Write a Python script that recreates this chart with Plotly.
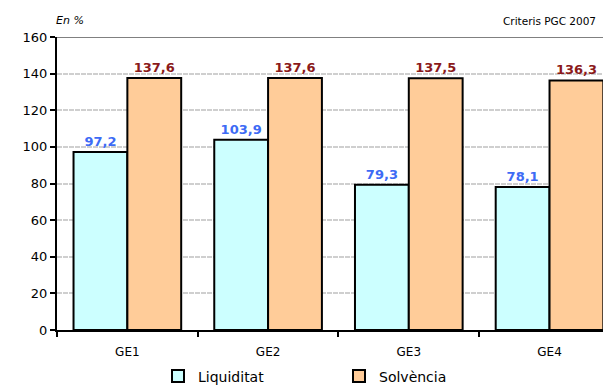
import plotly.graph_objects as go

# Ratios by group, in percent
groups = ["GE1", "GE2", "GE3", "GE4"]
liquiditat = [97.2, 103.9, 79.3, 78.1]
solvencia = [137.6, 137.6, 137.5, 136.3]
y_ticks = [0, 20, 40, 60, 80, 100, 120, 140, 160]

FONT = "DejaVu Sans"

fig = go.Figure()
fig.add_trace(go.Bar(
    name="Liquiditat", x=groups, y=liquiditat,
    marker=dict(color="#CCFFFF", line=dict(color="black", width=2)),
    texttemplate="%{y:.1f}", textposition="outside", cliponaxis=False,
    textfont=dict(family=FONT, size=13, color="#3D6BF5", weight="bold"),
))
fig.add_trace(go.Bar(
    name="Solvència", x=groups, y=solvencia,
    marker=dict(color="#FFCC99", line=dict(color="black", width=2)),
    texttemplate="%{y:.1f}", textposition="outside", cliponaxis=False,
    textfont=dict(family=FONT, size=13, color="#8B1A1A", weight="bold"),
))

fig.update_layout(
    width=603, height=387,
    margin=dict(l=57, r=0, t=37, b=57, autoexpand=False),
    paper_bgcolor="white", plot_bgcolor="white",
    separators=",.",
    barmode="group", bargap=0.235, bargroupgap=0,
    font=dict(family=FONT, size=13, color="black"),
    showlegend=True,
    legend=dict(orientation="h", x=0.185, y=-0.104, xanchor="left", yanchor="top",
                bgcolor="rgba(0,0,0,0)", entrywidth=136, font=dict(size=14),
                traceorder="normal"),
    xaxis=dict(range=[-0.5, 3.38], showline=True, linecolor="black", linewidth=2,
               ticks="outside", tickson="boundaries", ticklen=5, tickwidth=2,
               tickcolor="black", ticklabelstandoff=10, showgrid=False,
               tickfont=dict(size=12), automargin=False),
    yaxis=dict(range=[0, 160], tickvals=y_ticks, showline=True, linecolor="black",
               linewidth=2, ticks="outside", ticklen=5, tickwidth=2, tickcolor="black",
               showgrid=True, gridcolor="#CFCFCF", gridwidth=2, griddash="5px,1px",
               zeroline=False, tickfont=dict(size=13), automargin=False),
)

# Plot area top border
fig.add_shape(type="line", xref="paper", yref="y", x0=0, x1=1, y0=160, y1=160,
              line=dict(color="#808080", width=2))

fig.add_annotation(text="<i>En %</i>", xref="paper", yref="paper", x=-0.005, y=1.0,
                   yshift=8, xanchor="left", yanchor="bottom", showarrow=False,
                   font=dict(size=11))
fig.add_annotation(text="Criteris PGC 2007", xref="paper", yref="paper", x=0.99, y=1.0,
                   yshift=8, xanchor="right", yanchor="bottom", showarrow=False,
                   font=dict(size=10.5))

fig.write_html("out.html")
